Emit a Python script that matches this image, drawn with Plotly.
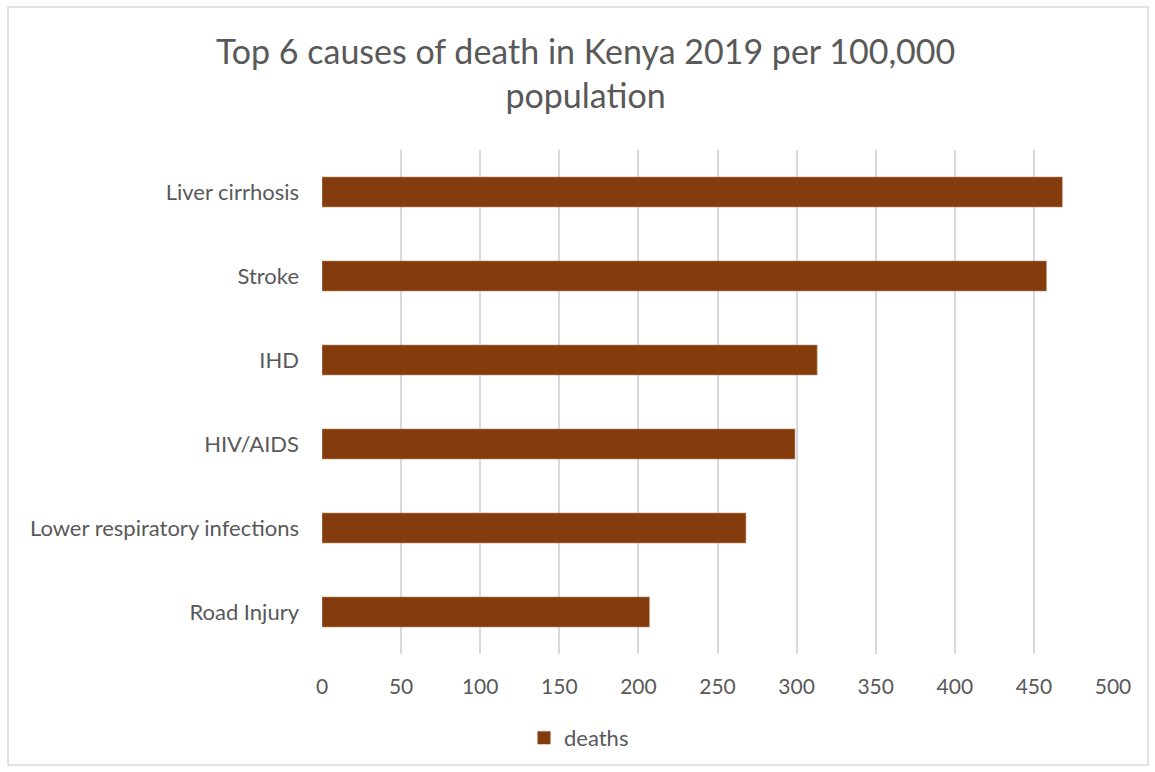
import plotly.graph_objects as go

categories = ["Liver cirrhosis", "Stroke", "IHD", "HIV/AIDS", "Lower respiratory infections", "Road Injury"]
deaths = [468, 458, 313, 299, 268, 207]
x_ticks = [0, 50, 100, 150, 200, 250, 300, 350, 400, 450, 500]

W, H = 1155, 772
L, R, T, B = 322, 1113, 150, 654

fig = go.Figure()
fig.add_trace(go.Bar(
    y=categories, x=deaths, orientation="h", name="deaths",
    marker=dict(color="#843C0C", line=dict(color="#C8A48C", width=0.6)),
    width=0.36, showlegend=False,
))
fig.add_trace(go.Scatter(
    x=[None], y=[None], mode="markers", name="deaths",
    marker=dict(symbol="square", size=13, color="#843C0C"), showlegend=True,
))

font = "Lato, 'Open Sans', sans-serif"
fig.update_layout(
    width=W, height=H,
    margin=dict(l=L, r=W - R, t=T, b=H - B, pad=0),
    paper_bgcolor="white", plot_bgcolor="white",
    font=dict(family=font, color="#595959", size=22),
    title=dict(text="Top 6 causes of death in Kenya 2019 per 100,000<br>population",
               x=0.507, xanchor="center", y=0.917, yanchor="top",
               font=dict(size=34, color="#595959", family=font)),
    xaxis=dict(range=[0, 500], tickvals=x_ticks, showgrid=True, gridcolor="#D9D9D9", gridwidth=1.5,
               zeroline=False, showline=False, ticks="", tickfont=dict(size=21, color="#595959"),
               ticklabelstandoff=18),
    yaxis=dict(categoryorder="array", categoryarray=categories[::-1], showgrid=False,
               ticks="", ticklabelstandoff=22, tickfont=dict(size=22, color="#595959"),
               showline=False),
    legend=dict(orientation="h", x=(579 - L) / (R - L), xanchor="center",
                y=(B - 738) / (B - T), yanchor="middle", font=dict(size=22, color="#595959"),
                itemwidth=30, traceorder="normal"),
    bargap=0.64,
    shapes=[dict(type="rect", xref="paper", yref="paper",
                 x0=(8 - L) / (R - L), x1=(1148 - L) / (R - L),
                 y0=(B - 765) / (B - T), y1=(B - 7) / (B - T),
                 line=dict(color="#D9D9D9", width=1.5), fillcolor="rgba(0,0,0,0)", layer="below")],
)
fig.write_html("out.html")
